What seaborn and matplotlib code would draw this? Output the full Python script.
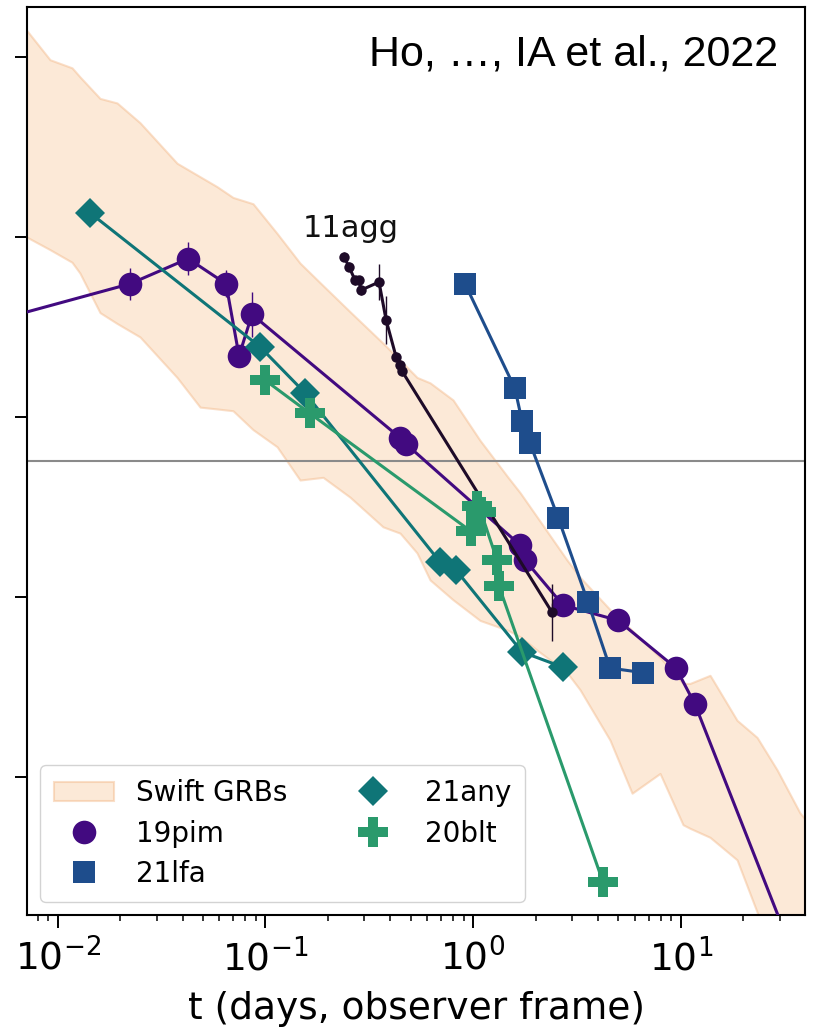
import numpy as np
import matplotlib
matplotlib.use("Agg")
import matplotlib.pyplot as plt
from matplotlib.patches import Patch
from matplotlib.lines import Line2D
import seaborn as sns

# ---- Swift GRB afterglow envelope (bright / faint edge, mag) ----
grb_t = [0.00659, 0.00919, 0.01173, 0.0128, 0.0160, 0.01932, 0.02493, 0.03758,
         0.04852, 0.05852, 0.06986, 0.08725, 0.1139, 0.1469, 0.1897, 0.2557,
         0.3686, 0.4453, 0.5375, 0.6209, 0.8010, 1.081, 1.474, 1.684, 2.033,
         2.836, 3.275, 4.566, 5.830, 7.950, 10.26, 11.09, 13.84, 18.67, 23.31,
         29.09, 37.53, 41.93]
grb_bright = [15.61, 16.03, 16.12, 16.22, 16.46, 16.51, 16.73, 17.18,
              17.33, 17.44, 17.56, 17.63, 17.96, 18.29, 18.54, 18.83,
              19.18, 19.37, 19.56, 19.62, 19.81, 20.26, 20.67, 20.84, 21.11,
              21.59, 21.78, 22.14, 22.37, 22.67, 22.96, 22.96, 22.87, 23.37, 23.56,
              23.92, 24.40, 24.53]
grb_faint = [17.96, 18.14, 18.28, 18.40, 18.84, 18.96, 19.11, 19.56,
             19.89, 19.91, 19.93, 20.14, 20.33, 20.70, 20.67, 20.89,
             21.22, 21.29, 21.51, 21.81, 22.03, 22.26, 22.37, 22.44, 22.59,
             22.84, 23.03, 23.59, 24.18, 23.96, 24.53, 24.57, 24.67, 24.92, 25.50,
             26.03, 26.48, 26.59]

# ---- Light curves ----
pim_t = [0.0040, 0.0223, 0.0425, 0.0647, 0.0747, 0.0863, 0.445, 0.476,
         1.68, 1.78, 2.71, 4.99, 9.49, 11.7, 50.0]
pim_mag = [18.99, 18.52, 18.24, 18.52, 19.32, 18.86, 20.23, 20.30,
           21.42, 21.59, 22.09, 22.26, 22.79, 23.19, 26.89]
pim_err = [0.10, 0.18, 0.18, 0.15, 0.10, 0.25, 0.05, 0.05,
           0.10, 0.10, 0.10, 0.05, 0.05, 0.10, 0.10]

agg_t = [0.2393, 0.2529, 0.2704, 0.2826, 0.2890, 0.3527, 0.3813, 0.4259,
         0.4452, 0.4552, 2.401]
agg_mag = [18.22, 18.33, 18.48, 18.48, 18.59, 18.50, 18.92, 19.33,
           19.42, 19.49, 22.17]
agg_err = [0.05, 0.05, 0.05, 0.05, 0.05, 0.20, 0.27, 0.05, 0.05, 0.05, 0.32]

lfa_t = [0.915, 1.59, 1.72, 1.88, 2.57, 3.58, 4.57, 6.59]
lfa_mag = [18.52, 19.68, 20.04, 20.29, 21.12, 22.06, 22.79, 22.84]

any_t = [0.0143, 0.0943, 0.155, 0.693, 0.828, 1.72, 2.71]
any_mag = [17.73, 19.22, 19.73, 21.61, 21.70, 22.61, 22.78]

blt_t = [0.0997, 0.164, 0.978, 1.045, 1.093, 1.305, 1.334, 4.23]
blt_mag = [19.59, 19.96, 21.27, 20.99, 21.06, 21.59, 21.88, 25.17]

limit_mag = 20.49
ytick_vals = [16, 18, 20, 22, 24]

# ---- colours ----
c_pim = "#420a80"
c_agg = "#1e0b28"
c_lfa = "#1e4d8c"
c_any = "#0f7577"
c_blt = "#2a9a6c"
c_grb_face = "#f9cfa8"
c_grb_edge = "#f3b888"

sns.set_theme(style="ticks")
plt.rcParams["font.family"] = ["DejaVu Sans"]
for key in ("text.color", "axes.labelcolor", "xtick.color", "ytick.color",
            "axes.edgecolor"):
    plt.rcParams[key] = "black"

fig = plt.figure(figsize=(8.13, 10.29), dpi=100)
ax = fig.add_axes([0.0332, 0.1108, 0.957, 0.8824])

ax.fill_between(grb_t, grb_bright, grb_faint, facecolor=c_grb_face,
                edgecolor=c_grb_edge, alpha=0.45, linewidth=1.5, zorder=0)

ax.axhline(limit_mag, color="#8a8a8a", lw=1.5, zorder=1)

series = [
    (pim_t, pim_mag, pim_err, c_pim, "o", 17, 2.2),
    (agg_t, agg_mag, agg_err, c_agg, "o", 7.5, 2.2),
    (lfa_t, lfa_mag, None, c_lfa, "s", 16, 2.2),
    (any_t, any_mag, None, c_any, "D", 15, 2.2),
    (blt_t, blt_mag, None, c_blt, "P", 22, 2.2),
]
for i, (t, m, e, c, mk, ms, lw) in enumerate(series):
    z = 3 + i
    sns.lineplot(x=t, y=m, ax=ax, color=c, marker=mk, markersize=ms,
                 linewidth=lw, markeredgecolor=c, markeredgewidth=0,
                 sort=False, estimator=None, legend=False, zorder=z)
    if e is not None:
        ax.errorbar(t, m, yerr=e, fmt="none", ecolor=c, elinewidth=1.0,
                    zorder=z)

ax.text(0.2587, 17.90, "11agg", fontsize=22, ha="center", va="center",
        color="#111111")

ax.set_xscale("log")
ax.set_xlim(0.00712, 39.67)
ax.set_ylim(25.533, 15.444)
ax.set_yticks(ytick_vals)
ax.set_yticklabels([])
ax.set_ylabel("")
ax.set_xlabel("t (days, observer frame)", fontsize=27, labelpad=9)

for s in ax.spines.values():
    s.set_linewidth(1.5)
    s.set_color("black")
ax.tick_params(axis="both", which="major", length=9, width=1.4,
               direction="out", labelsize=27, color="black", pad=8)
ax.tick_params(axis="x", which="minor", length=4.5, width=1.1,
               direction="out", color="black")
ax.tick_params(axis="y", which="minor", length=0)

handles = [
    Patch(facecolor=c_grb_face, edgecolor=c_grb_edge, alpha=0.45,
          linewidth=1.5, label="Swift GRBs"),
    Line2D([], [], ls="none", marker="o", color=c_pim, markersize=17,
           markeredgewidth=0, label="19pim"),
    Line2D([], [], ls="none", marker="s", color=c_lfa, markersize=16,
           markeredgewidth=0, label="21lfa"),
    Line2D([], [], ls="none", marker="D", color=c_any, markersize=15,
           markeredgewidth=0, label="21any"),
    Line2D([], [], ls="none", marker="P", color=c_blt, markersize=22,
           markeredgewidth=0, label="20blt"),
]
leg = ax.legend(handles=handles, ncol=2, loc="lower left",
                bbox_to_anchor=(0.0167, 0.0143), borderaxespad=0,
                fontsize=20, frameon=True, fancybox=True, framealpha=0.85,
                edgecolor="#cccccc", labelspacing=0.45, handlelength=2.15,
                handletextpad=0.8, columnspacing=2.0, borderpad=0.5)
leg.set_zorder(10)

fig.text(778 / 813, 1 - 66 / 1029, "Ho, \u2026, IA et al., 2022",
         ha="right", va="baseline", fontsize=31,
         fontfamily=["Liberation Sans", "DejaVu Sans"], color="black")

fig.savefig("out.png", dpi=100)
